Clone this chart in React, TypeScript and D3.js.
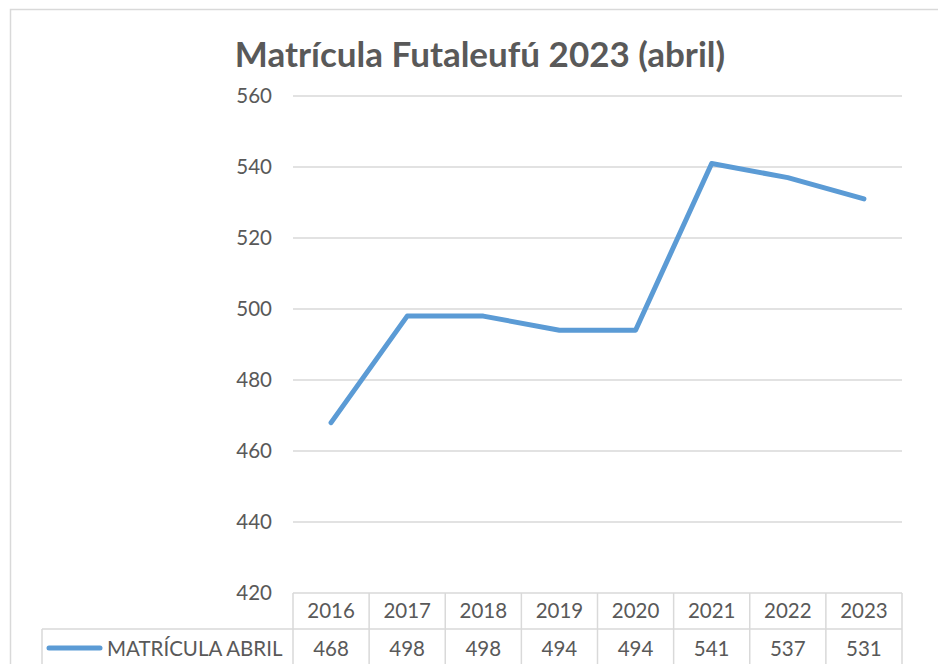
import React from "react";
import * as d3 from "d3";

const years = ["2016", "2017", "2018", "2019", "2020", "2021", "2022", "2023"];
const values = [468, 498, 498, 494, 494, 541, 537, 531];
const yTicks = [420, 440, 460, 480, 500, 520, 540, 560];
const seriesName = "MATRÍCULA ABRIL";
const title = "Matrícula Futaleufú 2023 (abril)";

const W = 938, H = 664;
const left = 293, right = 902, top = 96, bottom = 593;
const font = "Lato, 'Open Sans', sans-serif";
const txt = "#595959";
const grid = "#d9d9d9";
const blue = "#5B9BD5";

export default function App() {
  const x = d3.scaleBand().domain(years).range([left, right]);
  const y = d3.scaleLinear().domain([420, 560]).range([bottom, top]);
  const line = d3
    .line<number>()
    .x((_, i) => (x(years[i]) as number) + x.bandwidth() / 2)
    .y((d) => y(d));
  const headerBottom = 629;
  const rowBottom = 670;
  return (
    <svg
      width={W}
      height={H}
      style={{ position: "absolute", left: 0, top: 0, background: "#fff" }}
      fontFamily={font}
    >
      <rect x={10.5} y={9.5} width={940} height={700} fill="#fff" stroke={grid} strokeWidth={1.5} />
      <text x={480} y={67} textAnchor="middle" fontSize={35} fontWeight="bold" fill={txt}>
        {title}
      </text>
      {yTicks.map((t) => (
        <g key={t}>
          {t !== 420 && (
            <line x1={left} x2={right} y1={y(t)} y2={y(t)} stroke={grid} strokeWidth={1.5} />
          )}
          <text x={272} y={y(t) + 7} textAnchor="end" fontSize={20.5} fill={txt}>
            {t}
          </text>
        </g>
      ))}
      <line x1={left} x2={right} y1={bottom} y2={bottom} stroke={grid} strokeWidth={1.5} />
      <line x1={42} x2={right} y1={headerBottom} y2={headerBottom} stroke={grid} strokeWidth={1.5} />
      <line x1={42} x2={42} y1={headerBottom} y2={rowBottom} stroke={grid} strokeWidth={1.5} />
      {years.map((yr) => (
        <line
          key={"v" + yr}
          x1={x(yr)}
          x2={x(yr)}
          y1={bottom}
          y2={rowBottom}
          stroke={grid}
          strokeWidth={1.5}
        />
      ))}
      <line x1={right} x2={right} y1={bottom} y2={rowBottom} stroke={grid} strokeWidth={1.5} />
      {years.map((yr, i) => (
        <g key={"t" + yr}>
          <text
            x={(x(yr) as number) + x.bandwidth() / 2}
            y={618}
            textAnchor="middle"
            fontSize={20.5}
            fill={txt}
          >
            {yr}
          </text>
          <text
            x={(x(yr) as number) + x.bandwidth() / 2}
            y={656}
            textAnchor="middle"
            fontSize={20.5}
            fill={txt}
          >
            {values[i]}
          </text>
        </g>
      ))}
      <line x1={49} x2={100} y1={648} y2={648} stroke={blue} strokeWidth={5} strokeLinecap="round" />
      <text x={107} y={656} fontSize={20.5} fill={txt}>
        {seriesName}
      </text>
      <path
        d={line(values) || ""}
        fill="none"
        stroke={blue}
        strokeWidth={5}
        strokeLinejoin="round"
        strokeLinecap="round"
      />
    </svg>
  );
}
